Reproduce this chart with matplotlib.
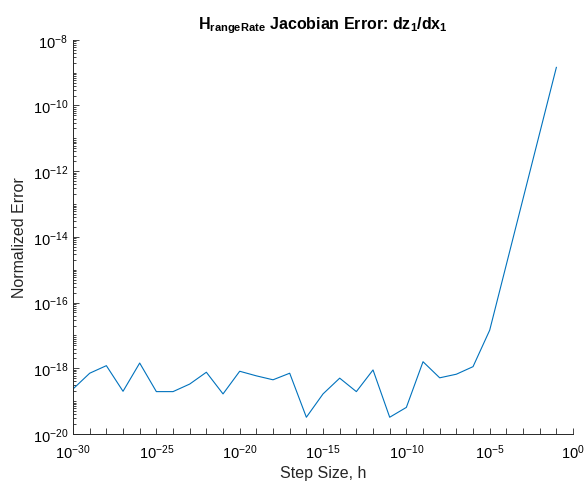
import numpy as np
import matplotlib
matplotlib.use('Agg')
import matplotlib.pyplot as plt
from matplotlib.ticker import LogLocator, FixedLocator, NullFormatter

plt.rcParams['font.family'] = ['Liberation Sans', 'DejaVu Sans']
plt.rcParams['mathtext.fontset'] = 'custom'
plt.rcParams['mathtext.rm'] = 'Liberation Sans'
plt.rcParams['mathtext.it'] = 'Liberation Sans:italic'
plt.rcParams['mathtext.bf'] = 'Liberation Sans:bold'

# step sizes 1e-30 ... 1e-1
step_exp = list(range(-30, 0))
# log10 of normalized error
err_log = [-18.63, -18.15, -17.92, -18.70, -17.84, -18.71, -18.71, -18.48, -18.12, -18.78,
           -18.09, -18.23, -18.35, -18.15, -19.49, -18.78, -18.30, -18.71, -18.05, -19.49,
           -19.19, -17.80, -18.29, -18.18, -17.95, -16.84, -14.84, -12.84, -10.84, -8.84]

h = 10.0 ** np.array(step_exp, dtype=float)
err = 10.0 ** np.array(err_log)

fig = plt.figure(figsize=(5.87, 4.85), dpi=100)
ax = fig.add_axes([0.1244, 0.1031, 0.8518, 0.8128])

ax.loglog(h, err, color=(0, 0.447, 0.741), lw=0.8)
ax.set_xlim(1e-30, 1e0)
ax.set_ylim(1e-20, 1e-8)

gray = (0.15, 0.15, 0.15)
ax.xaxis.set_major_locator(FixedLocator([10.0 ** e for e in range(-30, 1, 5)]))
ax.xaxis.set_minor_locator(FixedLocator([10.0 ** e for e in range(-30, 1)]))
ax.xaxis.set_minor_formatter(NullFormatter())
ax.yaxis.set_major_locator(FixedLocator([10.0 ** e for e in range(-20, -7, 2)]))
ax.yaxis.set_minor_locator(LogLocator(base=10, subs=np.arange(1, 10), numticks=100))
ax.yaxis.set_minor_formatter(NullFormatter())

for s in ['top', 'right']:
    ax.spines[s].set_visible(False)
for s in ['left', 'bottom']:
    ax.spines[s].set_color(gray)
    ax.spines[s].set_linewidth(0.7)

ax.tick_params(which='both', direction='in', colors=gray, labelsize=10.5, width=0.6)
ax.tick_params(which='major', length=4)
ax.tick_params(axis='x', which='minor', length=4)
ax.tick_params(axis='y', which='minor', length=2.5)
ax.tick_params(axis='x', which='major', pad=6)
for lbl in ax.get_xticklabels() + ax.get_yticklabels():
    lbl.set_color('black')

ax.set_xlabel('Step Size, h', fontsize=11.5, color=gray, labelpad=3)
ax.set_ylabel('Normalized Error', fontsize=11.5, color=gray)
ax.set_title(r'$\mathbf{H_{rangeRate}}$ Jacobian Error: $\mathbf{dz_1/dx_1}$',
             fontsize=11.5, fontweight='bold', pad=8)

fig.savefig('out.png', dpi=100)
